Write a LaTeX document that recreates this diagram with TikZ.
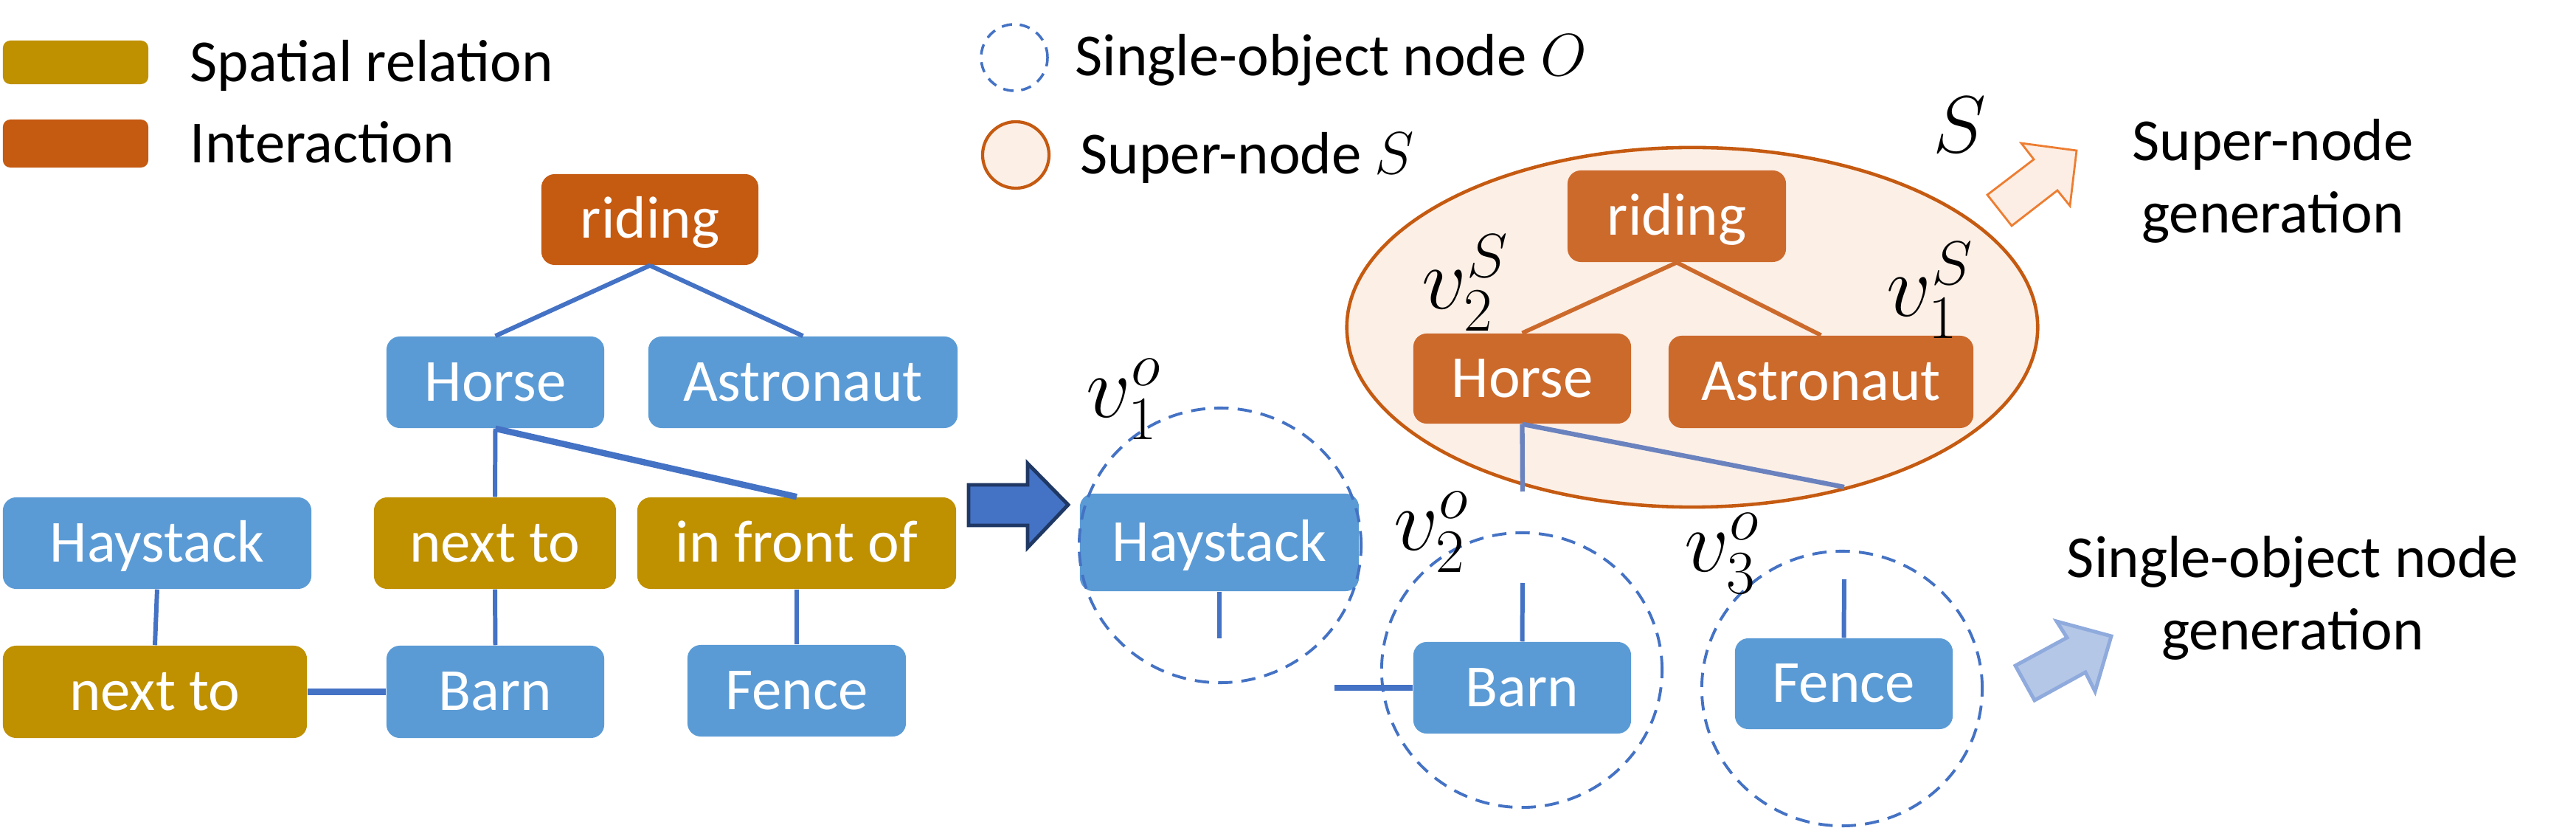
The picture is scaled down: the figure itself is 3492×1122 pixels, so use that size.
\RequirePackage{fix-cm}
\documentclass[tikz,border=0pt]{standalone}
\usepackage[no-math]{fontspec}
\setmainfont{Carlito}
\usetikzlibrary{shapes.geometric}
\definecolor{objblue}{HTML}{5B9BD5}
\definecolor{relgold}{HTML}{BF9000}
\definecolor{actorange}{HTML}{C55A11}
\definecolor{suporange}{HTML}{CC6A2C}
\definecolor{linkblue}{HTML}{4472C4}
\definecolor{greyblue}{HTML}{6A82BE}
\definecolor{peach}{HTML}{FCEFE6}
\definecolor{navy}{HTML}{1F3864}
\definecolor{arrorange}{HTML}{ED7D31}
\definecolor{arrpeach}{HTML}{FCEEE4}
\definecolor{lightblue}{HTML}{B4C7E7}
\definecolor{lightblueline}{HTML}{8FAADC}
\begin{document}
\begin{tikzpicture}[x=0.01cm,y=-0.01cm,
  txt/.style={font=\fontsize{23}{27.9}\selectfont},
  box/.style={txt, rounded corners=0.18cm, inner sep=0pt, minimum height=1.24cm,
    text=white, text height=14.5pt, text depth=0pt},
  objbox/.style={box, fill=objblue},
  relbox/.style={box, fill=relgold},
  actbox/.style={box, fill=actorange},
  supbox/.style={box, fill=suporange},
  link/.style={draw=linkblue, line width=1.7pt},
  thicklink/.style={draw=linkblue, line width=2.4pt},
  suplink/.style={draw=suporange, line width=1.6pt},
  cutlink/.style={draw=greyblue, line width=1.8pt},
  objring/.style={ellipse, draw=linkblue, line width=1.1pt, dash pattern=on 5.5pt off 3.5pt, inner sep=0pt},
  vlabel/.style={anchor=base west, inner sep=0pt, font=\fontsize{34}{40}\selectfont},
  legtext/.style={txt, anchor=west, inner sep=0pt, text height=14.5pt, text depth=0pt},
]
\useasboundingbox (0,0) rectangle (3492,1122);

% ---------- legend ----------
\node[relbox, rounded corners=0.1cm, minimum width=1.97cm, minimum height=0.59cm] (legrel) at (102.5,84.5) {};
\node[actbox, rounded corners=0.1cm, minimum width=1.97cm, minimum height=0.65cm] (legact) at (102.5,194.5) {};
\node[legtext] (legreltext) at (257,85) {Spatial relation};
\node[legtext] (legacttext) at (257,195) {Interaction};
\node[circle, draw=linkblue, line width=1pt, dash pattern=on 4pt off 3pt, minimum size=0.9cm, inner sep=0pt] (legobj) at (1375,78) {};
\node[legtext] (legobjtext) at (1457,77) {Single-object node $O$};
\node[circle, draw=actorange, fill=peach, line width=1.2pt, minimum size=0.9cm, inner sep=0pt] (legsup) at (1377,210) {};
\node[legtext] (legsuptext) at (1464,210) {Super-node $S$};

% ---------- left scene graph ----------
\node[actbox, minimum width=2.94cm, minimum height=1.23cm] (lriding) at (881,297.5) {riding};
\node[objbox, minimum width=2.95cm] (lhorse) at (671.5,518) {Horse};
\node[objbox, minimum width=4.19cm] (lastro) at (1088.5,518) {Astronaut};
\node[objbox, minimum width=4.18cm] (lhay) at (213,736) {Haystack};
\node[relbox, minimum width=3.28cm] (lnexta) at (671,736) {next to};
\node[relbox, minimum width=4.32cm] (lfront) at (1080,736) {in front of};
\node[relbox, minimum width=4.12cm, minimum height=1.25cm] (lnextb) at (210,937.5) {next to};
\node[objbox, minimum width=2.95cm, minimum height=1.25cm] (lbarn) at (671.5,937.5) {Barn};
\node[objbox, minimum width=2.96cm] (lfence) at (1080,936) {Fence};

\draw[link] (lriding.south) -- (lhorse.north);
\draw[link] (lriding.south) -- (lastro.north);
\draw[link] (lhorse.south) -- (lnexta.north);
\draw[thicklink] (lhorse.south) -- (lfront.north);
\draw[link] (lhay.south) -- (lnextb.north);
\draw[link] (lnexta.south) -- (lbarn.north);
\draw[link] (lfront.south) -- (lfence.north);
\draw[thicklink] (lnextb.east) -- (lbarn.west);

% ---------- big arrow ----------
\draw[fill=linkblue, draw=navy, line width=1.4pt, line join=miter]
  (1313,657) -- (1393,657) -- (1393,628) -- (1448,684) -- (1393,742) -- (1393,712) -- (1313,712) -- cycle;

% ---------- super-node ----------
\node[ellipse, draw=actorange, fill=peach, line width=1.3pt, minimum width=9.36cm, minimum height=4.87cm, inner sep=0pt] (super) at (2294,443.5) {};
\coordinate (hcuta) at (2064,666);
\coordinate (hcutb) at (2500,660);
\node[supbox, minimum width=2.96cm] (sriding) at (2273,293) {riding};
\node[supbox, minimum width=2.95cm, minimum height=1.22cm] (shorse) at (2063.5,513) {Horse};
\node[supbox, minimum width=4.13cm, minimum height=1.25cm] (sastro) at (2468.5,517.5) {Astronaut};
\draw[suplink] (sriding.south) -- (shorse.north);
\draw[suplink] (sriding.south) -- (sastro.north);
\draw[cutlink] (shorse.south) -- (hcuta);
\draw[cutlink] (shorse.south) -- (hcutb);

% ---------- single-object nodes ----------
\node[objbox, minimum width=3.78cm, minimum height=1.32cm] (rhay) at (1653,735) {Haystack};
\node[objbox, minimum width=2.95cm] (rbarn) at (2063.5,932) {Barn};
\node[objbox, minimum width=2.95cm, minimum height=1.23cm] (rfence) at (2499.5,926.5) {Fence};
\coordinate (haycut) at (1653,865);
\coordinate (barncut) at (2064,790);
\coordinate (barnleft) at (1809,932);
\coordinate (fencecut) at (2500,785);
\draw[link] (rhay.south) -- (haycut);
\draw[link] (rbarn.north) -- (barncut);
\draw[thicklink] (rbarn.west) -- (barnleft);
\draw[link] (rfence.north) -- (fencecut);

\node[objring, minimum width=3.82cm, minimum height=3.72cm] (ringa) at (1654,739) {};
\node[objring, minimum width=3.80cm, minimum height=3.72cm] (ringb) at (2063,908) {};
\node[objring, minimum width=3.80cm, minimum height=3.72cm] (ringc) at (2497,933) {};

% ---------- math labels ----------
\node[vlabel] (vonea) at (1472,566) {$v_1^o$};
\node[vlabel] (vtwoa) at (1889,746) {$v_2^o$};
\node[vlabel] (vthreea) at (2283,775) {$v_3^o$};
\node[vlabel] (vtwos) at (1927,419) {$v_2^S$};
\node[vlabel] (vones) at (2557,429) {$v_1^S$};
\node[anchor=base west, inner sep=0pt, font=\fontsize{31}{36}\selectfont] (bigS) at (2620,207) {$S$};

% ---------- generation arrows ----------
\draw[fill=arrpeach, draw=arrorange, line width=0.8pt, line join=miter]
  (2694,264) -- (2757,216) -- (2740,194) -- (2815,204) -- (2806,279) -- (2789,258) -- (2727,306) -- cycle;
\draw[fill=lightblue, draw=lightblueline, line width=1.4pt, line join=miter]
  (2732,902) -- (2802,864) -- (2788,842) -- (2862,862) -- (2840,937) -- (2827,911) -- (2758,949) -- cycle;

\node[txt, align=center, anchor=base, inner sep=0pt] (supgen) at (3081,316) {Super-node\\generation};
\node[txt, align=center, anchor=base, inner sep=0pt] (singen) at (3108,881) {Single-object node\\generation};
\end{tikzpicture}
\end{document}
